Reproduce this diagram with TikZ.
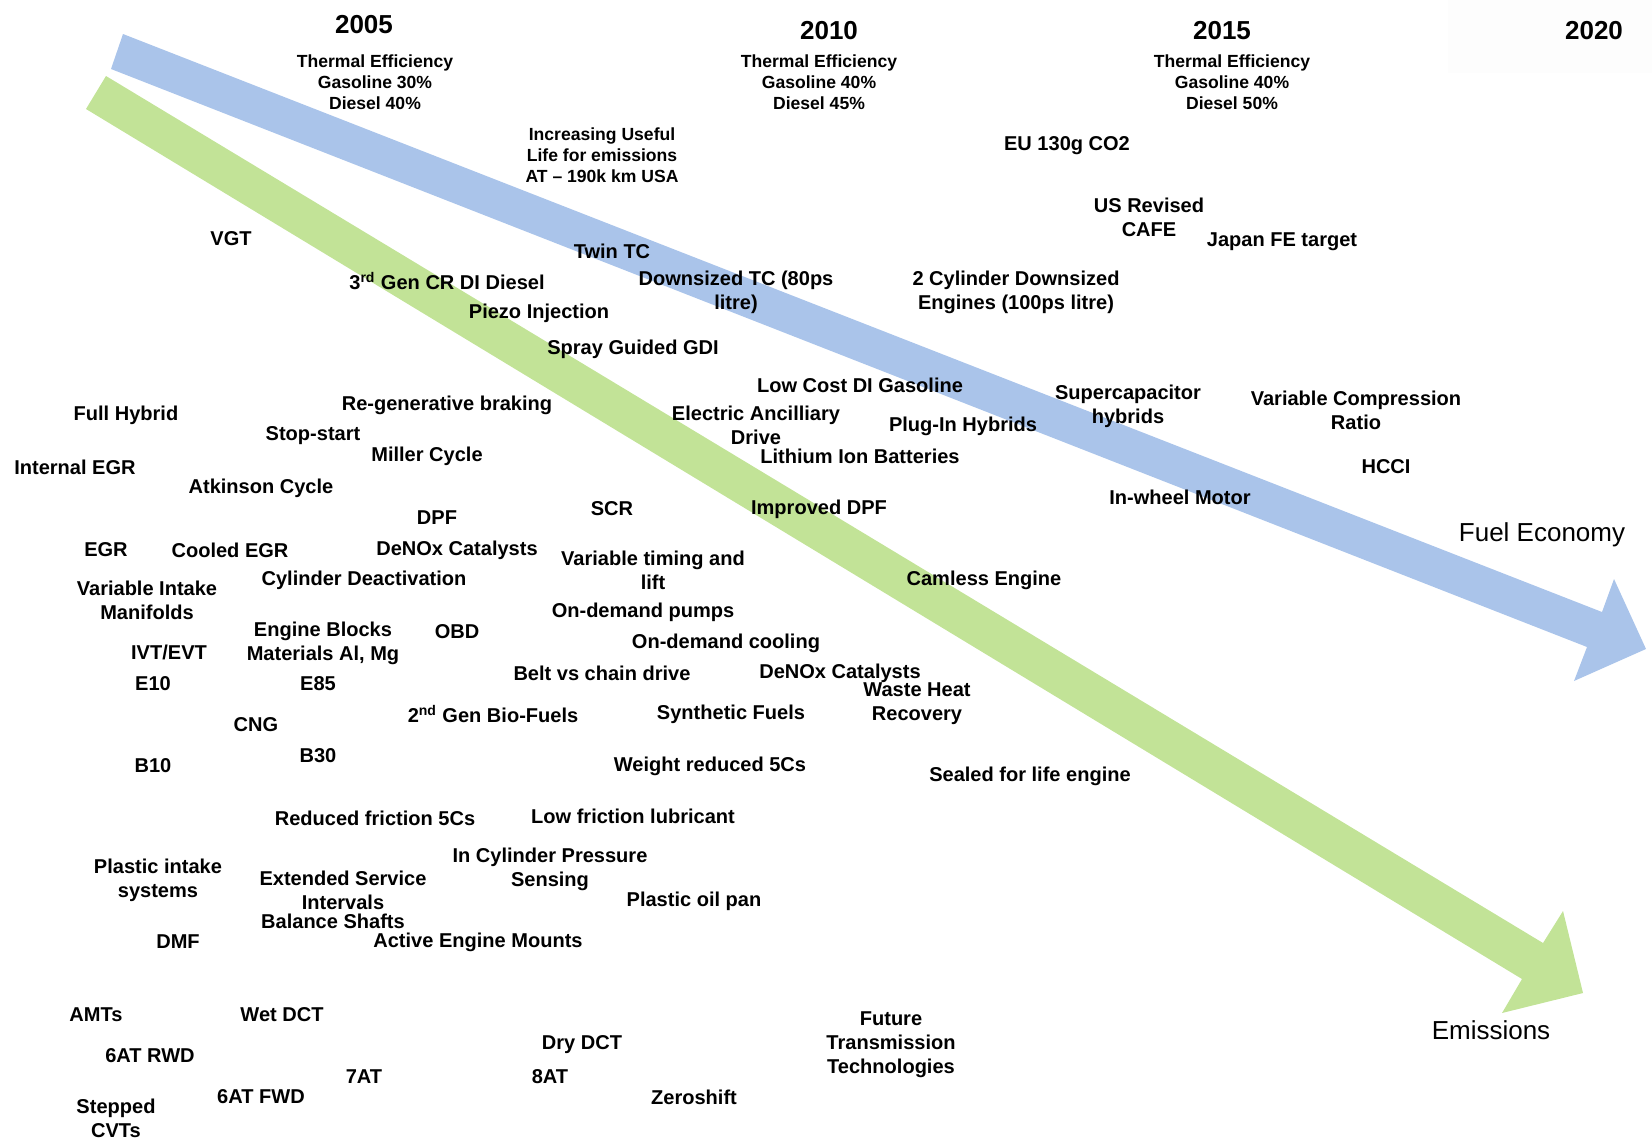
\documentclass[tikz,border=0pt]{standalone}
\usepackage{fontspec}
\setmainfont{Liberation Sans}
\usepackage{tikz}
\usetikzlibrary{positioning}
\definecolor{fuelblue}{RGB}{170,196,234}
\definecolor{emisgreen}{RGB}{194,227,151}
\tikzstyle{item} =
[inner sep=0pt, align=center, yshift=-0.04cm,
font=\fontsize{11.4}{13.7}\selectfont\bfseries]
\tikzstyle{effic} =
[inner sep=0pt, align=center, font=\fontsize{10}{12}\selectfont\bfseries]
\tikzstyle{yearnode} =
[inner sep=0pt, yshift=-0.02cm, font=\fontsize{14.8}{17}\selectfont\bfseries]
\tikzstyle{trend} =
[inner sep=0pt, yshift=-0.04cm, font=\fontsize{14.8}{17}\selectfont]
\tikzstyle{fuelarrow} = [fill=fuelblue, draw=none]
\tikzstyle{emisarrow} = [fill=emisgreen, draw=none]
\begin{document}
\begin{tikzpicture}[x=0.02cm, y=-0.02cm]
  \useasboundingbox (0,0) rectangle (1652,1139);
  \fill [black!0.8] (1448,0) rectangle (1652,73);
  % trend arrows
  \fill [fuelarrow] (123,34) -- (1602,612) -- (1614,579) -- (1646,649)
   -- (1574,681) -- (1587,647) -- (111,69) -- cycle;
  \fill [emisarrow] (106,76) -- (1543,943) -- (1563,911) -- (1583,993)
   -- (1502,1013) -- (1522,979) -- (86,109) -- cycle;
  \node [trend] (fuel) at (1542,533) {Fuel Economy};
  \node [trend] (emis) at (1491,1028) {Emissions};
  % years
  \node [yearnode] (y2005) at (364,24) {2005};
  \node [yearnode] (y2010) at (829,30) {2010};
  \node [yearnode] (y2015) at (1222,30) {2015};
  \node [yearnode] (y2020) at (1594,30) {2020};
  \node [effic] (eff2005) at (375,82)
   {Thermal Efficiency\\Gasoline 30\%\\Diesel 40\%};
  \node [effic] (eff2010) at (819,82)
   {Thermal Efficiency\\Gasoline 40\%\\Diesel 45\%};
  \node [effic] (eff2015) at (1232,82)
   {Thermal Efficiency\\Gasoline 40\%\\Diesel 50\%};
  \node [effic] (usefullife) at (602,155)
   {Increasing Useful\\Life for emissions\\AT -- 190k km USA};
  % regulation
  \node [item] (eu) at (1067,144) {EU 130g CO2};
  \node [item] (cafe) at (1149,215) {US Revised\\CAFE};
  \node [item] (japan) at (1282,240) {Japan FE target};
  % boosting and injection
  \node [item] (vgt) at (231,237) {VGT};
  \node [item] (twintc) at (612,249) {Twin TC};
  \node [item] (crdi) at (447,279) {3\textsuperscript{rd} Gen CR DI Diesel};
  \node [item] (downtc) at (736,290) {Downsized TC (80ps\\litre)};
  \node [item] (twocyl) at (1016,290)
   {2 Cylinder Downsized\\Engines (100ps litre)};
  \node [item] (piezo) at (539,311) {Piezo Injection};
  \node [item] (gdi) at (633,347) {Spray Guided GDI};
  \node [item] (lowcost) at (860,383) {Low Cost DI Gasoline};
  % electrification
  \node [item] (supercap) at (1128,404) {Supercapacitor\\hybrids};
  \node [item] (varcomp) at (1356,408) {Variable Compression\\Ratio};
  \node [item] (regen) at (447,403) {Re-generative braking};
  \node [item] (fullhybrid) at (126,413) {Full Hybrid};
  \node [item] (ancil) at (756,423) {Electric Ancilliary\\Drive};
  \node [item] (plugin) at (963,424) {Plug-In Hybrids};
  \node [item] (stopstart) at (313,434) {Stop-start};
  \node [item] (miller) at (427,454) {Miller Cycle};
  \node [item] (lithium) at (860,454) {Lithium Ion Batteries};
  \node [item] (integr) at (75,465) {Internal EGR};
  \node [item] (hcci) at (1386,465) {HCCI};
  \node [item] (atkinson) at (261,486) {Atkinson Cycle};
  \node [item] (inwheel) at (1180,495) {In-wheel Motor};
  % aftertreatment
  \node [item] (scr) at (612,507) {SCR};
  \node [item] (impdpf) at (819,507) {Improved DPF};
  \node [item] (dpf) at (437,516) {DPF};
  \node [item] (egr) at (106,548) {EGR};
  \node [item] (coolegr) at (230,548) {Cooled EGR};
  \node [item] (denox) at (457,548) {DeNOx Catalysts};
  \node [item] (vartiming) at (653,568) {Variable timing and\\lift};
  \node [item] (intake) at (147,598) {Variable Intake\\Manifolds};
  \node [item] (cyldeact) at (364,578) {Cylinder Deactivation};
  \node [item] (camless) at (984,578) {Camless Engine};
  \node [item] (pumps) at (643,610) {On-demand pumps};
  \node [item] (blocks) at (323,641) {Engine Blocks\\Materials Al, Mg};
  \node [item] (obd) at (457,630) {OBD};
  \node [item] (cooling) at (726,641) {On-demand cooling};
  \node [item] (ivt) at (169,650) {IVT/EVT};
  \node [item] (belt) at (602,671) {Belt vs chain drive};
  \node [item] (denoxtwo) at (840,671) {DeNOx Catalysts};
  % fuels
  \node [item] (e10) at (153,682) {E10};
  \node [item] (e85) at (318,682) {E85};
  \node [item] (wasteheat) at (917,702) {Waste Heat\\Recovery};
  \node [item] (biofuel) at (493,712) {2\textsuperscript{nd} Gen Bio-Fuels};
  \node [item] (synfuel) at (731,712) {Synthetic Fuels};
  \node [item] (cng) at (256,723) {CNG};
  \node [item] (b30) at (318,754) {B30};
  \node [item] (b10) at (153,764) {B10};
  % friction and weight
  \node [item] (weight) at (710,764) {Weight reduced 5Cs};
  \node [item] (sealed) at (1030,774) {Sealed for life engine};
  \node [item] (friction) at (375,816) {Reduced friction 5Cs};
  \node [item] (lubricant) at (633,814) {Low friction lubricant};
  \node [item] (pressure) at (550,867) {In Cylinder Pressure\\Sensing};
  \node [item] (plintake) at (158,878) {Plastic intake\\systems};
  \node [item] (service) at (343,888) {Extended Service\\Intervals};
  \node [item] (balance) at (333,919) {Balance Shafts};
  \node [item] (oilpan) at (694,899) {Plastic oil pan};
  \node [item] (dmf) at (178,940) {DMF};
  \node [item] (mounts) at (478,940) {Active Engine Mounts};
  % transmissions
  \node [item] (amts) at (96,1013) {AMTs};
  \node [item] (wetdct) at (282,1013) {Wet DCT};
  \node [item] (future) at (891,1043)
   {Future\\Transmission\\Technologies};
  \node [item] (rwd) at (150,1054) {6AT RWD};
  \node [item] (drydct) at (582,1043) {Dry DCT};
  \node [item] (sevenat) at (364,1075) {7AT};
  \node [item] (eightat) at (550,1075) {8AT};
  \node [item] (fwd) at (261,1095) {6AT FWD};
  \node [item] (zeroshift) at (694,1095) {Zeroshift};
  \node [item] (cvts) at (116,1116) {Stepped\\CVTs};
\end{tikzpicture}
\end{document}
